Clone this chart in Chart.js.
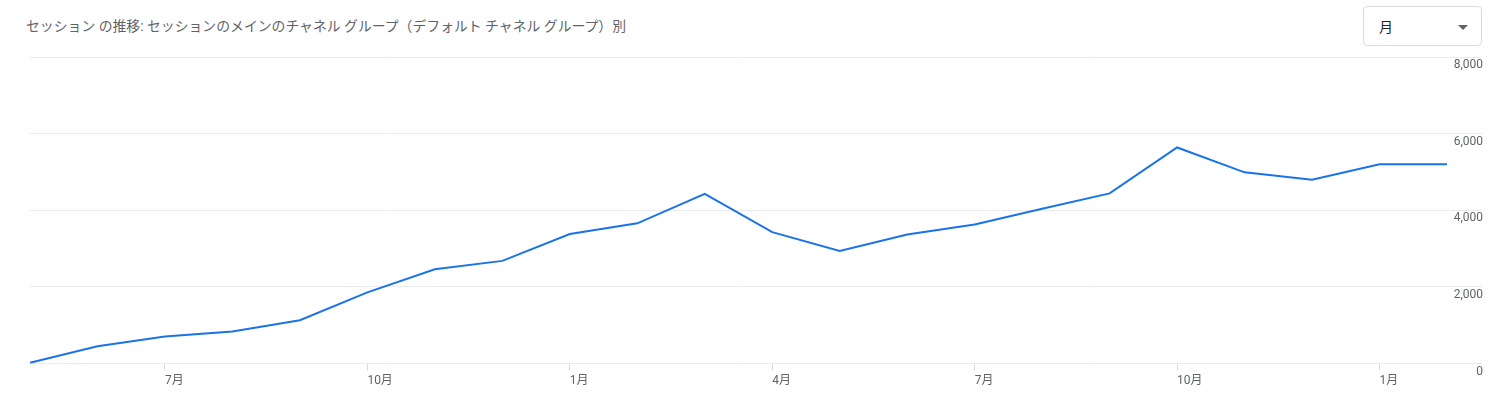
<!DOCTYPE html>
<html>
<head>
<meta charset="utf-8">
<script src="https://cdn.jsdelivr.net/npm/chart.js@4.4.1/dist/chart.umd.min.js"></script>
<style>
  html, body { margin: 0; padding: 0; background: #ffffff; }
  body { width: 1507px; height: 408px; position: relative; overflow: hidden;
         font-family: Roboto, "Noto Sans CJK JP", sans-serif; }
  #title { position: absolute; left: 26px; top: 16px; font-size: 13.85px; line-height: 20px;
           color: #5f6368; white-space: nowrap; }
  #dropdown { position: absolute; left: 1363px; top: 6px; width: 117px; height: 38px;
              border: 1px solid #dadce0; border-radius: 4px; box-sizing: content-box; }
  #dropdown .label { position: absolute; left: 15px; top: 10px; font-size: 14px; line-height: 20px; color: #202124; }
  #dropdown .arrow { position: absolute; left: 94px; top: 18px; width: 0; height: 0;
                     border-left: 5px solid transparent; border-right: 5px solid transparent;
                     border-top: 5px solid #5f6368; }
  #wrap { position: absolute; left: 0; top: 0; width: 1507px; height: 408px; }
</style>
</head>
<body>
<div id="title">セッション の推移: セッションのメインのチャネル グループ（デフォルト チャネル グループ）別</div>
<div id="dropdown"><span class="label">月</span><span class="arrow"></span></div>
<div id="wrap"><canvas id="c"></canvas></div>
<script>
// Months from May (year 1) to Feb (year 3)
const categories = ["5月","6月","7月","8月","9月","10月","11月","12月","1月","2月","3月","4月",
                    "5月","6月","7月","8月","9月","10月","11月","12月","1月","2月"];
const sessions = [20, 450, 710, 840, 1130, 1860, 2460, 2680, 3380, 3660, 4430, 3430,
                  2940, 3370, 3630, 4040, 4440, 5640, 4990, 4800, 5200, 5200];
const shownMonths = ["1月","4月","7月","10月"];
const yTicks = [0, 2000, 4000, 6000, 8000];

const isShown = i => shownMonths.includes(categories[i]);

new Chart(document.getElementById('c'), {
  type: 'line',
  data: {
    labels: categories,
    datasets: [{
      label: 'セッション',
      data: sessions,
      borderColor: '#1a73e8',
      backgroundColor: '#1a73e8',
      borderWidth: 2,
      pointRadius: 0,
      pointHoverRadius: 0,
      tension: 0,
      fill: false
    }]
  },
  options: {
    responsive: true,
    maintainAspectRatio: false,
    animation: false,
    layout: { padding: { left: 30, right: 24, top: 57, bottom: 17 } },
    plugins: { legend: { display: false }, tooltip: { enabled: false } },
    scales: {
      x: {
        offset: false,
        border: { display: false },
        grid: {
          drawOnChartArea: false,
          drawTicks: true,
          tickLength: 7,
          color: ctx => isShown(ctx.index) ? '#dadce0' : 'rgba(0,0,0,0)'
        },
        ticks: {
          autoSkip: false,
          maxRotation: 0,
          minRotation: 0,
          align: 'start',
          padding: 3,
          color: '#5f6368',
          font: { family: 'Roboto, "Noto Sans CJK JP", sans-serif', size: 12 },
          callback: function(value, index) { return isShown(index) ? categories[index] : ''; }
        }
      },
      y: {
        position: 'right',
        min: yTicks[0],
        max: yTicks[yTicks.length - 1],
        border: { display: false },
        afterBuildTicks: s => { s.ticks = yTicks.map(v => ({ value: v })); },
        afterFit: s => { s.width = 36; },
        grid: {
          color: '#e8eaed',
          lineWidth: 1,
          drawTicks: true,
          tickLength: 35
        },
        ticks: {
          crossAlign: 'far',
          padding: -29,
          labelOffset: 8,
          color: '#5f6368',
          font: { family: 'Roboto, "Noto Sans CJK JP", sans-serif', size: 12 },
          callback: v => Number(v).toLocaleString('en-US')
        }
      }
    }
  }
});
</script>
</body>
</html>
